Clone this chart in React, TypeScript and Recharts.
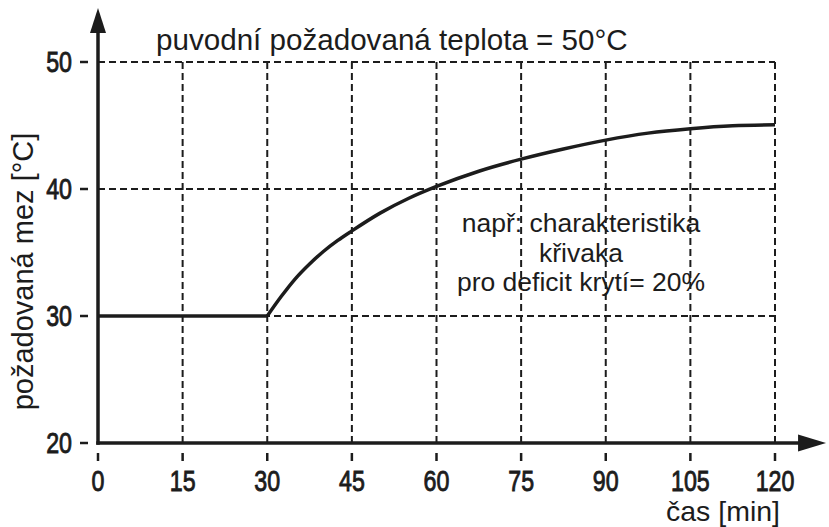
import React from 'react';
import { LineChart, Line, XAxis, YAxis, CartesianGrid, ReferenceLine } from 'recharts';

const xTicks = [0, 15, 30, 45, 60, 75, 90, 105, 120];
const yTicks = [20, 30, 40, 50];

const flatTimes = [0, 30];
const flatValues = [30, 30];

const curveTimes = [30, 32.5, 35, 37.5, 40, 42.5, 45, 50, 55, 60, 67.5, 75, 82.5, 90, 97.5, 105, 112.5, 120];
const curveValues = [30, 31.55, 32.95, 34.1, 35.1, 35.95, 36.7, 38.1, 39.25, 40.2, 41.4, 42.35, 43.15, 43.85, 44.4, 44.75, 44.98, 45.05];

const titleText = 'puvodní požadovaná teplota = 50°C';
const yAxisTitle = 'požadovaná mez [°C]';
const xAxisTitle = 'čas [min]';
const noteLines = ['např: charakteristika', 'křivaka', 'pro deficit krytí= 20%'];

const xAxisArrowEnd = 129.05;
const yAxisArrowEnd = 54.25;

const flatData = flatTimes.map((t, i) => ({ t, v: flatValues[i] }));
const curveData = curveTimes.map((t, i) => ({ t, v: curveValues[i] }));

const FONT = '"Liberation Sans", Arial, Helvetica, sans-serif';
const INK = '#1c1c1c';

const XTick = (props: any) => {
  const { x, y, payload } = props;
  return (
    <text
      transform={`translate(${x},${y + 30}) scale(0.8,1)`}
      textAnchor="middle"
      fontFamily={FONT}
      fontSize={29}
      fill={INK}
      stroke={INK}
      strokeWidth={0.9}
    >
      {payload.value}
    </text>
  );
};

const YTick = (props: any) => {
  const { x, y, payload } = props;
  return (
    <text
      transform={`translate(${x},${y + 10}) scale(0.8,1)`}
      textAnchor="end"
      fontFamily={FONT}
      fontSize={29}
      fill={INK}
      stroke={INK}
      strokeWidth={0.9}
    >
      {payload.value}
    </text>
  );
};

const arrowShape = (len: number, half: number) => (props: any) => {
  const { x1, y1, x2, y2 } = props;
  const dx = x2 - x1;
  const dy = y2 - y1;
  const L = Math.hypot(dx, dy) || 1;
  const ux = dx / L;
  const uy = dy / L;
  const bx = x2 - ux * len;
  const by = y2 - uy * len;
  const px = -uy;
  const py = ux;
  return (
    <g>
      <line x1={x1} y1={y1} x2={bx + ux * 2} y2={by + uy * 2} stroke={INK} strokeWidth={3.5} strokeLinecap="square" />
      <polygon
        points={`${x2},${y2} ${bx + px * half},${by + py * half} ${bx - px * half},${by - py * half}`}
        fill={INK}
      />
    </g>
  );
};

export default function App() {
  return (
    <div style={{ position: 'absolute', left: 0, top: 0, width: 829, height: 527, background: '#fff' }}>
      <LineChart width={829} height={527} margin={{ top: 62, right: 54, bottom: 44, left: 0 }}>
        <CartesianGrid stroke={INK} strokeWidth={2} strokeDasharray="7 4" />
        <XAxis
          type="number"
          dataKey="t"
          domain={[0, 120]}
          ticks={xTicks}
          allowDataOverflow
          height={40}
          axisLine={false}
          tickSize={18}
          tickMargin={0}
          tickLine={{ stroke: INK, strokeWidth: 2.5, strokeDasharray: '8 20' }}
          tick={<XTick />}
        />
        <YAxis
          type="number"
          dataKey="v"
          domain={[20, 50]}
          ticks={yTicks}
          allowDataOverflow
          width={98}
          axisLine={false}
          tickSize={18}
          tickMargin={8}
          tickLine={{ stroke: INK, strokeWidth: 2.5, strokeDasharray: '8 20' }}
          tick={<YTick />}
        />
        <Line
          data={flatData}
          dataKey="v"
          type="monotone"
          stroke={INK}
          strokeWidth={3.5}
          dot={false}
          activeDot={false}
          isAnimationActive={false}
        />
        <Line
          data={curveData}
          dataKey="v"
          type="monotone"
          stroke={INK}
          strokeWidth={3.5}
          dot={false}
          activeDot={false}
          isAnimationActive={false}
        />
        <ReferenceLine
          segment={[{ x: 0, y: 20 }, { x: xAxisArrowEnd, y: 20 }]}
          ifOverflow="visible"
          shape={arrowShape(28, 8.5)}
        />
        <ReferenceLine
          segment={[{ x: 0, y: 20 }, { x: 0, y: yAxisArrowEnd }]}
          ifOverflow="visible"
          shape={arrowShape(25, 8)}
        />
        <text x={156} y={50} fontFamily={FONT} fontSize={29.6} fill={INK}>
          {titleText}
        </text>
        <text
          x={0}
          y={0}
          transform="translate(33,271.5) rotate(-90)"
          textAnchor="middle"
          fontFamily={FONT}
          fontSize={29}
          fill={INK}
        >
          {yAxisTitle}
        </text>
        <text x={666} y={521} fontFamily={FONT} fontSize={28.5} fill={INK}>
          {xAxisTitle}
        </text>
        {noteLines.map((s, i) => (
          <text
            key={i}
            x={581}
            y={232 + i * 29.5}
            textAnchor="middle"
            fontFamily={FONT}
            fontSize={26.5}
            fill={INK}
          >
            {s}
          </text>
        ))}
      </LineChart>
    </div>
  );
}
